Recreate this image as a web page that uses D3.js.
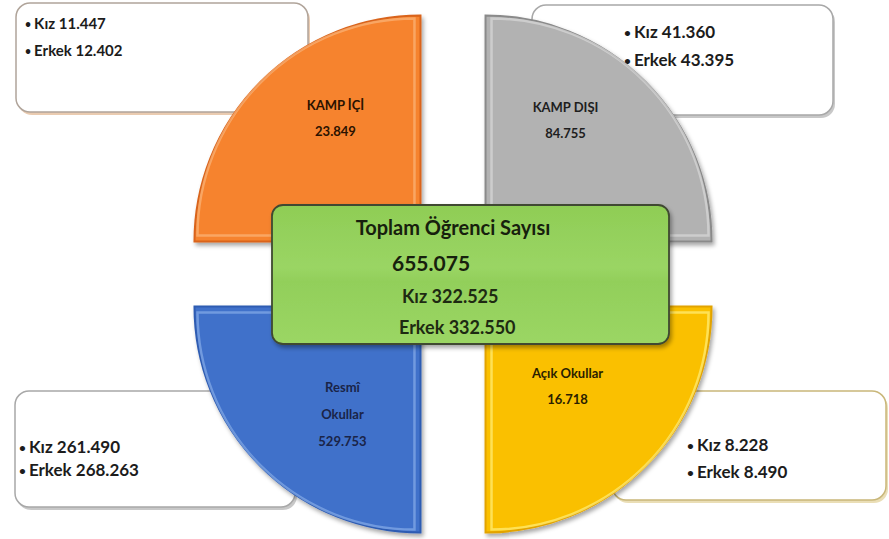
<!DOCTYPE html>
<html lang="tr">
<head>
<meta charset="UTF-8">
<title>Toplam Öğrenci Sayısı</title>
<script src="https://cdn.jsdelivr.net/npm/d3@7"></script>
<style>
  * { margin: 0; box-sizing: border-box; }
  html, body { width: 889px; height: 539px; overflow: hidden; background: #fff; }
  text { font-family: Lato, "Open Sans", sans-serif; font-weight: bold; }
</style>
</head>
<body>
<svg id="svg"></svg>
<script>
// clockwise from the top-right quarter
var categories = ["KAMP DIŞI", "Açık Okullar", "Resmî Okullar", "KAMP İÇİ"];
var labelLines = [["KAMP DIŞI"], ["Açık Okullar"], ["Resmî", "Okullar"], ["KAMP İÇİ"]];
var totals = [84755, 16718, 529753, 23849];
var kiz = [41360, 8228, 261490, 11447];
var erkek = [43395, 8490, 268263, 12402];
var grandTotal = 655075, grandKiz = 322525, grandErkek = 332550;

var w = 889, h = 539;
var svg = d3.select("#svg").attr("width", w).attr("height", h);
var tr = d3.formatLocale({decimal: ",", thousands: ".", grouping: [3], currency: ["", ""]});
var fmt = tr.format(",d");

var cx = 453, cy = 274, r = 226, explode = 46;
var colors = [
  {c0: "#a3a3a3", c1: "#b2b2b2", rim: "#d8d8d8", edge: "#8a8a8a", txt: "#1e1e1e"},
  {c0: "#fdd22e", c1: "#fac002", rim: "#fff07a", edge: "#e2a300", txt: "#2a1e00"},
  {c0: "#5485d6", c1: "#4071ca", rim: "#86ace8", edge: "#2f5cb2", txt: "#1a2448"},
  {c0: "#f47a24", c1: "#f6832e", rim: "#fbb57a", edge: "#d9641a", txt: "#2a1200"}
];
// layout: label block centre relative to each quarter's corner, and the side boxes
var labelOff = [[80, -121], [82, 80], [-78, 108], [-85, -123]];
var boxes = [
  {x: 532, y: 5, w: 301, h: 110, tx: 624, ty: [32, 60], fs: 17, st: "#a8a8a8", sh: "#9a9a9a"},
  {x: 612, y: 391, w: 274, h: 109, tx: 687, ty: [445, 472], fs: 17, st: "#c9b77a", sh: "#d8c27a"},
  {x: 15, y: 391, w: 280, h: 116, tx: 19, ty: [447, 470], fs: 17, st: "#a8a8a8", sh: "#9a9a9a"},
  {x: 16, y: 3, w: 292, h: 109, tx: 25, ty: [24, 51], fs: 15, st: "#b0a49a", sh: "#d9a070"}
];

var defs = svg.append("defs");
var f = defs.append("filter").attr("id", "shadow").attr("x", "-10%").attr("y", "-10%")
  .attr("width", "130%").attr("height", "130%");
f.append("feDropShadow").attr("dx", 2).attr("dy", 3).attr("stdDeviation", 2)
  .attr("flood-color", "#000").attr("flood-opacity", 0.35);

var pie = d3.pie().value(function() { return 1; }).sort(null);
var arcs = pie(categories);
var arc = d3.arc().innerRadius(0).outerRadius(r);
var rimArc = d3.arc().innerRadius(0).outerRadius(r - 9);

arcs.forEach(function(a, i) {
  var mid = (a.startAngle + a.endAngle) / 2;
  a.ox = cx + explode * Math.sin(mid);
  a.oy = cy - explode * Math.cos(mid);
  a.sx = Math.sin(mid) > 0 ? 1 : -1;
  a.sy = Math.cos(mid) > 0 ? -1 : 1;
  var g = defs.append("radialGradient").attr("id", "grad" + i)
    .attr("gradientUnits", "userSpaceOnUse")
    .attr("cx", a.ox).attr("cy", a.oy).attr("r", r);
  g.append("stop").attr("offset", "0%").attr("stop-color", colors[i].c0);
  g.append("stop").attr("offset", "100%").attr("stop-color", colors[i].c1);
});

// side boxes behind the quarters
var gBox = svg.append("g");
boxes.forEach(function(b, i) {
  gBox.append("rect").attr("x", b.x + 2).attr("y", b.y + 3).attr("width", b.w).attr("height", b.h)
    .attr("rx", 14).attr("fill", b.sh).attr("opacity", 0.55);
  gBox.append("rect").attr("x", b.x).attr("y", b.y).attr("width", b.w).attr("height", b.h)
    .attr("rx", 14).attr("fill", "#fff").attr("stroke", b.st).attr("stroke-width", 1.5);
  [["Kız", kiz[i]], ["Erkek", erkek[i]]].forEach(function(p, k) {
    var t = gBox.append("text").attr("x", b.tx).attr("y", b.ty[k] + b.fs * 0.35)
      .attr("font-size", b.fs).attr("fill", "#1c1c1c");
    t.append("tspan").attr("font-size", b.fs * 0.7).attr("dy", -1).text("\u2022");
    t.append("tspan").attr("dx", 3).attr("dy", 1)
      .text(p[0] + (i === 0 && k === 0 ? "  " : " ") + fmt(p[1]));
  });
});

// quarters
var gPie = svg.append("g");
var slices = gPie.selectAll("g.slice").data(arcs).enter().append("g")
  .attr("class", "slice");
slices.append("path")
  .attr("transform", function(d) { return "translate(" + d.ox + "," + d.oy + ")"; })
  .attr("d", arc)
  .attr("fill", function(d, i) { return "url(#grad" + i + ")"; })
  .attr("stroke", function(d, i) { return colors[i].edge; })
  .attr("stroke-width", 2)
  .attr("filter", "url(#shadow)");
slices.append("path")
  .attr("transform", function(d) {
    return "translate(" + (d.ox + d.sx * 6) + "," + (d.oy + d.sy * 6) + ")";
  })
  .attr("d", rimArc)
  .attr("fill", "none")
  .attr("stroke", function(d, i) { return colors[i].rim; })
  .attr("stroke-width", 2.5)
  .attr("stroke-opacity", 0.7);

slices.each(function(d, i) {
  var lines = labelLines[i].concat([fmt(totals[i])]);
  var bx = d.ox + labelOff[i][0], by = d.oy + labelOff[i][1];
  var step = lines.length > 2 ? 27 : 26;
  d3.select(this).selectAll("text").data(lines).enter().append("text")
    .attr("x", bx)
    .attr("y", function(t, k) { return by + (k - (lines.length - 1) / 2) * step; })
    .attr("dy", "0.35em")
    .attr("text-anchor", "middle")
    .attr("font-size", 13)
    .attr("font-weight", 900)
    .attr("fill", colors[i].txt)
    .text(function(t) { return t; });
});

// centre box
var gc = defs.append("linearGradient").attr("id", "green").attr("x1", 0).attr("y1", 0).attr("x2", 0).attr("y2", 1);
gc.append("stop").attr("offset", "0%").attr("stop-color", "#8fcd55");
gc.append("stop").attr("offset", "45%").attr("stop-color", "#9ad564");
gc.append("stop").attr("offset", "55%").attr("stop-color", "#92cf5a");
gc.append("stop").attr("offset", "100%").attr("stop-color", "#9bd664");

var center = svg.append("g");
center.append("rect").attr("x", 272).attr("y", 205).attr("width", 397).attr("height", 139)
  .attr("rx", 11).attr("fill", "url(#green)").attr("stroke", "#3f4a30").attr("stroke-width", 1.8)
  .attr("filter", "url(#shadow)");
center.append("text").attr("x", 453).attr("y", 228).attr("dy", "0.35em").attr("text-anchor", "middle")
  .attr("font-size", 20).attr("fill", "#17200d").text("Toplam Öğrenci Sayısı");
center.append("text").attr("x", 392).attr("y", 264).attr("dy", "0.35em")
  .attr("font-size", 21).attr("fill", "#17200d").text(fmt(grandTotal));
center.append("text").attr("x", 402).attr("y", 297).attr("dy", "0.35em")
  .attr("font-size", 18).attr("fill", "#1e2a12").text("Kız " + fmt(grandKiz));
center.append("text").attr("x", 399).attr("y", 328).attr("dy", "0.35em")
  .attr("font-size", 18).attr("fill", "#1e2a12").text("Erkek " + fmt(grandErkek));
</script>
</body>
</html>
